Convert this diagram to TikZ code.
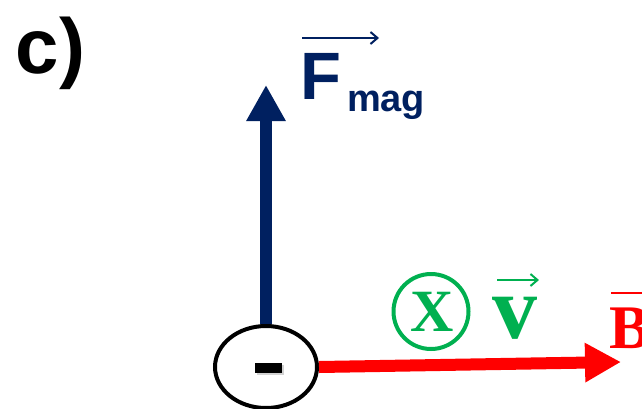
\documentclass[tikz,border=0pt]{standalone}
\usepackage{fontspec}
\setmainfont{Liberation Serif}
\newfontfamily\arialb{Liberation Sans}[BoldFont={* Bold}]
\usetikzlibrary{arrows.meta,shapes.geometric,shadows}
\definecolor{navy}{RGB}{0,32,96}
\definecolor{vgreen}{RGB}{0,176,80}
\definecolor{bred}{RGB}{255,0,0}
\tikzset{
  txt/.style={inner sep=0pt, outer sep=0pt, anchor=base west},
  thick arrow/.style={line width=12pt, -{Triangle[length=36pt,width=37pt]}},
  overarrow/.style={line width=2pt, -{Straight Barb[length=7pt,width=12pt,line width=2pt]}},
}
\begin{document}
\begin{tikzpicture}[x=1pt,y=-1pt]
\useasboundingbox (0,0) rectangle (642,408);
\clip (0,0) rectangle (642,408);
% label c)
\node[txt, font=\arialb\bfseries\fontsize{78}{78}\selectfont] (lbl) at (16,73) {c)};
% charge
\node[ellipse, draw=black, line width=4pt, fill=white, minimum width=102pt, minimum height=82pt, inner sep=0pt] (q) at (266,367) {};
\node[rectangle, fill=black, minimum width=27pt, minimum height=10pt, inner sep=0pt,
      drop shadow={shadow xshift=1.5pt, shadow yshift=-1.5pt, opacity=0.35}] (minus) at (268.5,368) {};
% force arrow
\coordinate (ftip) at (266,85);
\draw[navy, thick arrow] (q.north) -- (ftip);
\node[txt, navy, font=\arialb\bfseries\fontsize{67}{67}\selectfont] (F) at (300,99) {F};
\node[txt, navy, font=\arialb\bfseries\fontsize{38}{38}\selectfont] (mag) at (347,111) {mag};
\coordinate (fa1) at (302,38);
\coordinate (fa2) at (379,38);
\draw[navy, overarrow] (fa1) -- (fa2);
% B arrow
\coordinate (btip) at (621,362);
\draw[bred, thick arrow] (q.east) -- (btip);
\node[txt, bred, font=\bfseries\fontsize{62}{62}\selectfont] (B) at (609,348) {B};
\coordinate (ba1) at (611,293);
\coordinate (ba2) at (690,293);
\draw[bred, overarrow] (ba1) -- (ba2);
% v into page
\node[circle, draw=vgreen, line width=4pt, minimum size=75pt, inner sep=0pt] (into) at (431,311.5) {};
\node[vgreen, inner sep=0pt, font=\bfseries\fontsize{60}{60}\selectfont] (X) at (432,312) {X};
\node[txt, vgreen, font=\bfseries\fontsize{90}{90}\selectfont] (v) at (492,338) {v};
\coordinate (va1) at (497,280);
\coordinate (va2) at (539,280);
\draw[vgreen, overarrow] (va1) -- (va2);
\end{tikzpicture}
\end{document}
